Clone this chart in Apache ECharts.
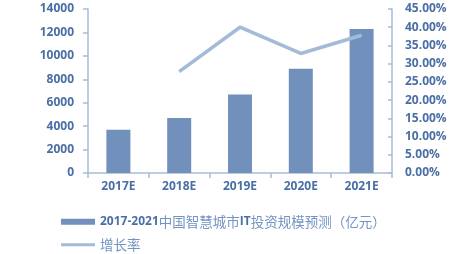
<!DOCTYPE html>
<html><head><meta charset="utf-8">
<script src="https://cdn.jsdelivr.net/npm/echarts@6/dist/echarts.min.js"></script>
<style>html,body{margin:0;padding:0;background:#fff}#c{width:474px;height:254px}</style>
</head><body><div id="c"></div>
<script>
const categories = ['2017E','2018E','2019E','2020E','2021E'];
const investValues = [3700, 4700, 6700, 8900, 12300];
const growthRates = [null, 27.8, 40.0, 32.8, 37.8];
const leftTicks = [0, 2000, 4000, 6000, 8000, 10000, 12000, 14000];
const rightTicks = [0, 5, 10, 15, 20, 25, 30, 35, 40, 45];
const barName = '2017-2021中国智慧城市IT投资规模预测（亿元）';
const lineName = '增长率';

const labelColor = '#4a6ea6';
const axisColor = '#a9bcd8';
const legendText = {
  rich: {
    d: {fontFamily: 'Open Sans', fontWeight: 'bold', fontSize: 12, color: '#4a6ea6'},
    c: {fontFamily: 'Noto Sans CJK SC', fontSize: 13.5, color: '#7393c2'}
  }
};
const fmt = function(n){
  if (n === barName) return '{d|2017-2021}{c|中国智慧城市}{d|IT}{c|投资规模预测（亿元）}';
  return '{c|' + n + '}';
};
const chart = echarts.init(document.getElementById('c'));
chart.setOption({
  animation: false,
  grid: {left: 88, right: 82, top: 9, bottom: 81},
  legend: [{
    left: 56, top: 210, itemWidth: 34, itemHeight: 6,
    data: [{name: barName, icon: 'rect'}],
    formatter: fmt, textStyle: legendText
  }, {
    left: 56, top: 233, itemWidth: 34, itemHeight: 3,
    data: [{name: lineName, icon: 'rect'}],
    formatter: fmt, textStyle: legendText
  }],
  xAxis: {
    type: 'category', data: categories,
    axisLine: {lineStyle: {color: axisColor, width: 1.5}},
    axisTick: {show: true, length: 5, lineStyle: {color: axisColor, width: 1.5}},
    axisLabel: {color: labelColor, fontFamily: 'Open Sans', fontWeight: 'bold', fontSize: 12, margin: 8}
  },
  yAxis: [{
    type: 'value', min: leftTicks[0], max: leftTicks[leftTicks.length-1], interval: 2000,
    splitLine: {show: false},
    axisLine: {show: true, lineStyle: {color: axisColor, width: 1.5}},
    axisTick: {show: true, length: 5, lineStyle: {color: axisColor, width: 1.5}},
    axisLabel: {color: labelColor, fontFamily: 'Open Sans', fontWeight: 'bold', fontSize: 12, margin: 14,
      formatter: v => String(v)}
  }, {
    type: 'value', min: rightTicks[0], max: rightTicks[rightTicks.length-1], interval: 5,
    splitLine: {show: false},
    axisLine: {show: true, lineStyle: {color: axisColor, width: 1.5}},
    axisTick: {show: true, inside: true, length: 4, lineStyle: {color: axisColor, width: 1.5}},
    axisLabel: {color: labelColor, fontFamily: 'Open Sans', fontWeight: 'bold', fontSize: 12, margin: 13,
      formatter: v => v.toFixed(2) + '%'}
  }],
  series: [{
    name: barName, type: 'bar', data: investValues, barWidth: 24,
    itemStyle: {color: '#7190bb'}
  }, {
    name: lineName, type: 'line', yAxisIndex: 1, data: growthRates,
    symbol: 'none', connectNulls: false,
    lineStyle: {color: '#a3bbd8', width: 3.5},
    itemStyle: {color: '#a3bbd8'}
  }]
});
</script></body></html>
